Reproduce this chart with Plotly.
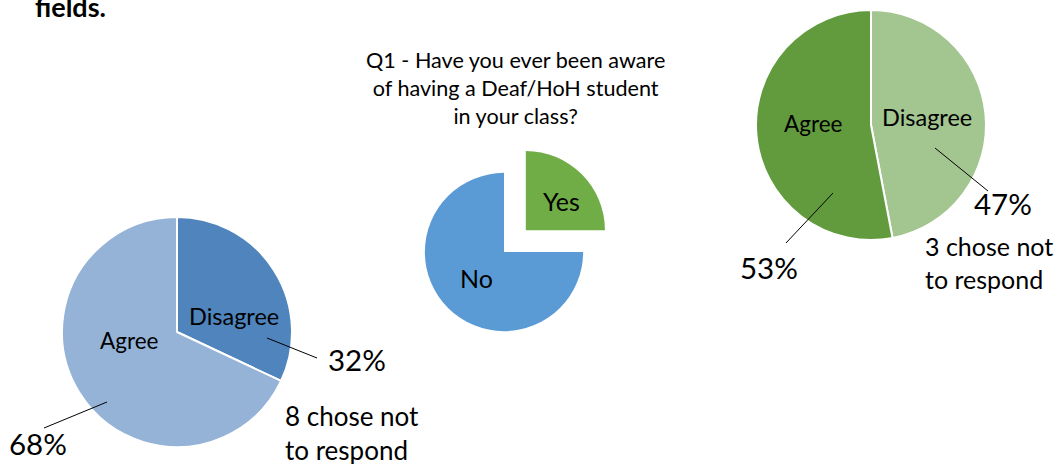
import plotly.graph_objects as go

W, H = 1061, 464

# ---- data ----
q_left_labels = ["Disagree", "Agree"]
q_left_values = [32, 68]
q_left_note = "8 chose not<br>to respond"

q1_title = "Q1 - Have you ever been aware<br>of having a Deaf/HoH student<br>in your class?"
q1_labels = ["Yes", "No"]
q1_values = [25, 75]

q_right_labels = ["Disagree", "Agree"]
q_right_values = [47, 53]
q_right_note = "3 chose not<br>to respond"

caption_tail = "fields."

FONT = "Lato"


def X(px):
    return px / W


def Y(py):
    return 1 - py / H


def dom(cx, cy, r):
    return dict(x=[X(cx - r), X(cx + r)], y=[Y(cy + r), Y(cy - r)])


fig = go.Figure()

fig.add_trace(go.Pie(
    labels=q_left_labels, values=q_left_values, sort=False, direction="clockwise",
    rotation=0, domain=dom(177, 332, 115), textinfo="none", hoverinfo="label+percent",
    marker=dict(colors=["#4f84bd", "#95b3d7"], line=dict(color="white", width=2)),
    showlegend=False,
))

fig.add_trace(go.Pie(
    labels=q1_labels, values=q1_values, sort=False, direction="clockwise",
    rotation=0, domain=dom(504, 252, 110), textinfo="none", hoverinfo="label+percent",
    pull=[0.39, 0], marker=dict(colors=["#70ad47", "#5b9bd5"], line=dict(color="rgba(0,0,0,0)", width=0)),
    showlegend=False,
))

fig.add_trace(go.Pie(
    labels=q_right_labels, values=q_right_values, sort=False, direction="clockwise",
    rotation=0, domain=dom(871, 125, 115), textinfo="none", hoverinfo="label+percent",
    marker=dict(colors=["#a3c58f", "#629b3e"], line=dict(color="white", width=2)),
    showlegend=False,
))

ann = []


def txt(text, px, py, size, xanchor="center", align="center", bold=False):
    ann.append(dict(
        text=f"<b>{text}</b>" if bold else text, x=X(px), y=Y(py), xref="paper", yref="paper",
        xanchor=xanchor, yanchor="middle", align=align, showarrow=False,
        font=dict(family=FONT, size=size, color="black"),
    ))


def pct(values, i):
    return f"{round(100 * values[i] / sum(values))}%"


# left pie
txt(q_left_labels[0], 234, 316, 23.5)
txt(q_left_labels[1], 129, 340, 22.5)
txt(pct(q_left_values, 0), 357, 359, 29.5)
txt(pct(q_left_values, 1), 38, 443, 29.5)
txt(q_left_note, 283, 433, 26, xanchor="left", align="left")

# middle pie
txt(q1_title, 515, 88, 21.6)
txt(q1_labels[0], 561, 201, 25)
txt(q1_labels[1], 476, 278, 25)

# right pie
txt(q_right_labels[0], 927, 117, 23.5)
txt(q_right_labels[1], 813, 124, 22.5)
txt(pct(q_right_values, 0), 1003, 203, 29.5)
txt(pct(q_right_values, 1), 769, 267, 29.5)
txt(q_right_note, 923, 262, 25, xanchor="left", align="left")

# caption fragment (cropped at top)
txt(caption_tail, 70, 7, 27, bold=True)

shapes = []


def seg(x0, y0, x1, y1):
    shapes.append(dict(type="line", xref="paper", yref="paper",
                       x0=X(x0), y0=Y(y0), x1=X(x1), y1=Y(y1),
                       line=dict(color="black", width=1)))


seg(267, 338, 317, 358)
seg(107, 402, 44, 428)
seg(935, 148, 988, 191)
seg(833, 193, 786, 243)

fig.update_layout(
    width=W, height=H, margin=dict(l=0, r=0, t=0, b=0),
    paper_bgcolor="white", plot_bgcolor="white",
    annotations=ann, shapes=shapes,
    font=dict(family=FONT, color="black"),
)

fig.write_html("out.html")
